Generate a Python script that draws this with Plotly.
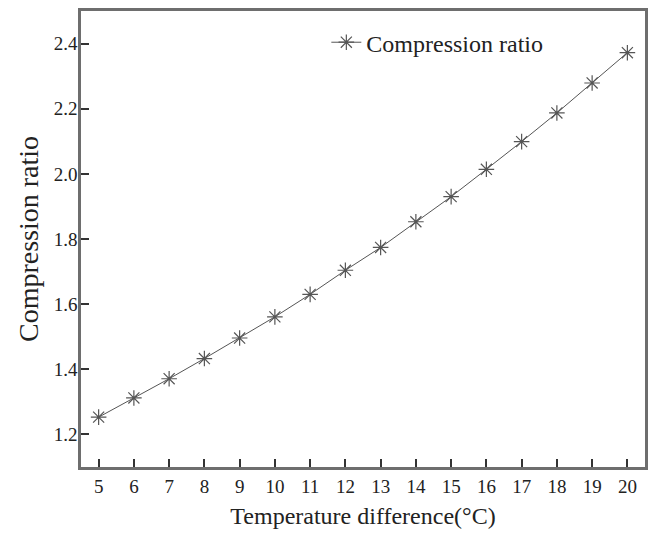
import plotly.graph_objects as go

temperature_difference = [5, 6, 7, 8, 9, 10, 11, 12, 13, 14, 15, 16, 17, 18, 19, 20]
compression_ratio = [1.253, 1.312, 1.371, 1.433, 1.496, 1.561, 1.630, 1.704, 1.774,
                     1.853, 1.930, 2.014, 2.099, 2.187, 2.279, 2.372]
x_ticks = list(range(5, 21))
y_ticks = [1.2, 1.4, 1.6, 1.8, 2.0, 2.2, 2.4]
y_tick_text = ["1.2", "1.4", "1.6", "1.8", "2.0", "2.2", "2.4"]

FONT = "Liberation Serif, Times New Roman, serif"

fig = go.Figure()
fig.add_trace(go.Scatter(
    x=temperature_difference, y=compression_ratio,
    mode="lines+markers", name="Compression ratio",
    line=dict(color="#555555", width=1),
    marker=dict(symbol="asterisk-open", size=13,
                line=dict(color="#333333", width=1.2)),
))

axis_common = dict(
    showgrid=False, zeroline=False, showline=True, linecolor="#6e6e6e",
    linewidth=2.5, mirror=True, ticks="inside", ticklen=8, tickwidth=1.5,
    tickcolor="#333333",
)

fig.update_layout(
    width=653, height=535,
    margin=dict(l=81, r=5, t=11, b=68),
    paper_bgcolor="white", plot_bgcolor="white",
    font=dict(family=FONT, color="#222222", size=19),
    showlegend=True,
    legend=dict(x=0.435, y=0.98, xanchor="left", yanchor="top",
                bgcolor="rgba(0,0,0,0)", font=dict(size=24, family=FONT)),
    xaxis=dict(range=[4.5, 20.5], tickvals=x_ticks,
               title=dict(text="Temperature difference(°C)", font=dict(size=24), standoff=12),
               tickfont=dict(size=19), **axis_common),
    yaxis=dict(range=[1.1, 2.5], tickvals=y_ticks, ticktext=y_tick_text,
               title=dict(text="Compression ratio", font=dict(size=28), standoff=7),
               tickfont=dict(size=19), ticklabelstandoff=-3, **axis_common),
)

fig.write_html("out.html")
